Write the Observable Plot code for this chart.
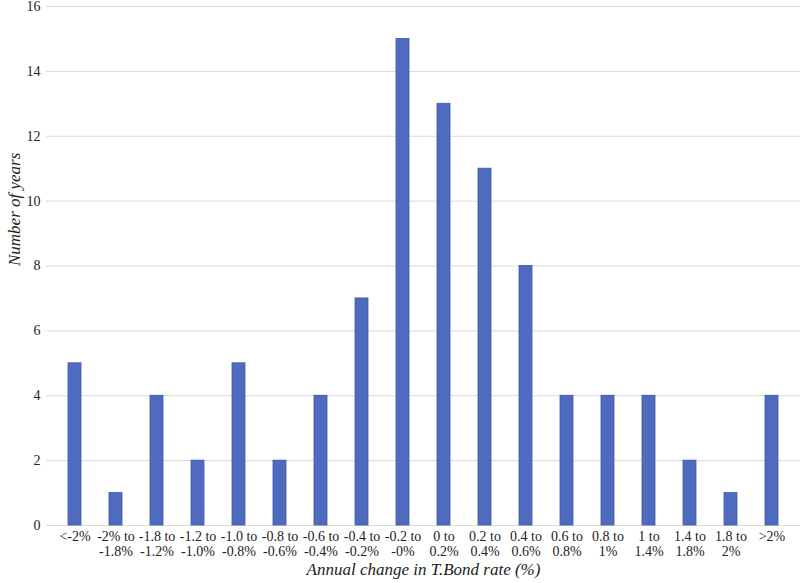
<!DOCTYPE html>
<html>
<head>
<meta charset="utf-8">
<script src="https://cdn.jsdelivr.net/npm/d3@7"></script>
<script src="https://cdn.jsdelivr.net/npm/@observablehq/plot@0.6"></script>
<style>
  html, body { margin: 0; padding: 0; background: #fff; font-family: "Liberation Serif", serif; }
  #chart svg { display: block; }
  svg text, svg tspan { font-family: "Liberation Serif", "Times New Roman", serif !important; }
</style>
</head>
<body>
<div id="chart"></div>
<script>
const categories = ["<-2%", "-2% to\n-1.8%", "-1.8 to\n-1.2%", "-1.2 to\n-1.0%", "-1.0 to\n-0.8%", "-0.8 to\n-0.6%", "-0.6 to\n-0.4%", "-0.4 to\n-0.2%", "-0.2 to\n-0%", "0 to\n0.2%", "0.2 to\n0.4%", "0.4 to\n0.6%", "0.6 to\n0.8%", "0.8 to\n1%", "1 to\n1.4%", "1.4 to\n1.8%", "1.8 to\n2%", ">2%"];
const years = [5, 1, 4, 2, 5, 2, 4, 7, 15, 13, 11, 8, 4, 4, 4, 2, 1, 4];
const yTicks = [0, 2, 4, 6, 8, 10, 12, 14, 16];

const data = categories.map((c, i) => ({category: c, years: years[i]}));
const FONT = "Liberation Serif, Times New Roman, serif";

const chart = Plot.plot({
  width: 802,
  height: 583,
  marginLeft: 46,
  marginRight: 2,
  marginTop: 6,
  marginBottom: 58,
  style: "font-family: 'Liberation Serif', serif; font-size: 14px; color: #222;",
  x: {domain: categories, paddingInner: 0.69, paddingOuter: 0.345, label: null},
  y: {domain: [0, 16], ticks: yTicks, label: null},
  marks: [
    Plot.gridY(yTicks, {stroke: "#d9d9d9", strokeOpacity: 1, strokeWidth: 1}),
    Plot.barY(data, {x: "category", y: "years", fill: "#4f6bbf", stroke: "#3f59a8", strokeWidth: 0.8}),
    Plot.axisY(yTicks, {tickSize: 0, tickPadding: 6, fontSize: 14, fontFamily: FONT, label: null}),
    Plot.axisX({tickSize: 0, tickPadding: 5, fontSize: 14, fontFamily: FONT, lineHeight: 1.08, label: null}),
    Plot.text(["Annual change in T.Bond rate (%)"], {frameAnchor: "bottom", dy: 49, fontSize: 17, fontFamily: FONT, fontStyle: "italic", fill: "#222"}),
    Plot.text(["Number of years"], {frameAnchor: "left", dx: -32, rotate: -90, fontSize: 17, fontFamily: FONT, fontStyle: "italic", fill: "#222"})
  ]
});
chart.setAttribute("font-family", FONT);
chart.querySelectorAll("g, text, tspan").forEach(el => {
  if (el.hasAttribute("font-family")) el.setAttribute("font-family", FONT);
  if (el.tagName === "text") el.setAttribute("font-family", FONT);
});
const st = chart.querySelector("style");
if (st) st.textContent = st.textContent.replace(/font-family:[^;]*;/g, "font-family: 'Liberation Serif', serif;") + "\ntext, tspan { font-family: 'Liberation Serif', serif !important; }";
document.getElementById("chart").appendChild(chart);
</script>
</body>
</html>
